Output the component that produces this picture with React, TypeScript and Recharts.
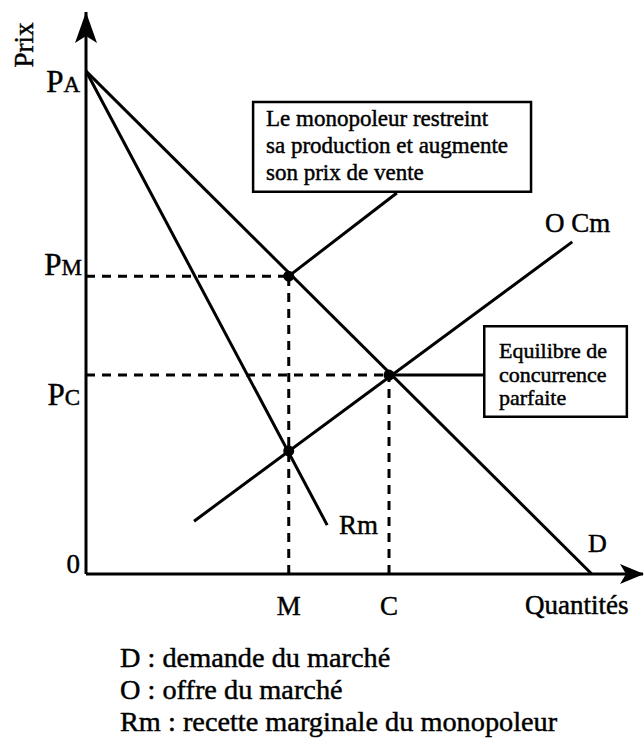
import React from 'react';
import { ComposedChart, Line, Scatter, XAxis, YAxis, ReferenceArea } from 'recharts';

// ---- data (in chart units, both axes 0..100) ----
const P_A = 89.5;
const P_M = 53.0;
const P_C = 35.4;
const Q_M = 36.4;
const Q_C = 54.4;
const RM_AT_M = 21.9;

const demandLine = [{ x: 0, y: P_A }, { x: 90.8, y: 0 }];
const marginalRevenueLine = [{ x: 0, y: P_A }, { x: 43.3, y: 8.7 }];
const supplyLine = [{ x: 19.4, y: 9.4 }, { x: 87.3, y: 59.1 }];

const guidePMh = [{ x: 0, y: P_M }, { x: Q_M, y: P_M }];
const guidePCh = [{ x: 0, y: P_C }, { x: Q_C, y: P_C }];
const guideMv = [{ x: Q_M, y: 0 }, { x: Q_M, y: P_M }];
const guideCv = [{ x: Q_C, y: 0 }, { x: Q_C, y: P_C }];

const leaderMonopoly = [{ x: Q_M, y: P_M }, { x: 55.8, y: 67.8 }];
const leaderCompetition = [{ x: Q_C, y: P_C }, { x: 71.5, y: P_C }];

const keyPoints = [{ x: Q_M, y: P_M }, { x: Q_C, y: P_C }, { x: Q_M, y: RM_AT_M }];

const priceTicks = [0, P_C, P_M, P_A];
const priceTickLabels = [['0', ''], ['P', 'C'], ['P', 'M'], ['P', 'A']];
const quantityTicks = [Q_M, Q_C];
const quantityTickLabels = ['M', 'C'];

const monopolyBox = { x1: 30.0, x2: 79.9, y1: 68.0, y2: 84.0 };
const competitionBox = { x1: 71.5, x2: 97.1, y1: 28.0, y2: 44.1 };

const monopolyText = ['Le monopoleur restreint', 'sa production et augmente', 'son prix de vente'];
const competitionText = ['Equilibre de', 'concurrence', 'parfaite'];
const legendText = ['D : demande du marché', 'O : offre du marché', 'Rm : recette marginale du monopoleur'];

const FONT = '"Liberation Serif", "Times New Roman", serif';
const INK = { fontFamily: FONT, fill: '#000', stroke: '#000', strokeWidth: 0.45 };

const yLabelDy = [-1, 30, -1, 21];
const yLabelDx = [0, 0, 2, 0];

const PriceTick = (props: any) => {
  const { x, y, index } = props;
  const [big, small] = priceTickLabels[index];
  return (
    <text x={x + yLabelDx[index]} y={y + yLabelDy[index]} textAnchor="end" {...INK}>
      <tspan fontSize={index === 0 ? 27 : 31}>{big}</tspan>
      {small ? <tspan fontSize={23}>{small}</tspan> : null}
    </text>
  );
};

const QuantityTick = (props: any) => {
  const { x, y, index } = props;
  return (
    <text x={x} y={y + 41} textAnchor="middle" fontSize={27} {...INK}>
      {quantityTickLabels[index]}
    </text>
  );
};

const Dot = (props: any) => <circle cx={props.cx} cy={props.cy} r={5.5} fill="#000" />;

const solid = { stroke: '#000', strokeWidth: 3, dot: false, activeDot: false, isAnimationActive: false, type: 'linear' as const };
const dashed = { ...solid, strokeDasharray: '9 7' };

export default function App() {
  return (
    <div style={{ position: 'absolute', left: 0, top: 0, width: 644, height: 738, background: '#fff' }}>
      <ComposedChart width={644} height={738} margin={{ top: 12, right: 1, bottom: 104, left: 0 }}>
        <XAxis
          type="number"
          dataKey="x"
          domain={[0, 100]}
          allowDataOverflow
          ticks={quantityTicks}
          tick={<QuantityTick />}
          tickLine={false}
          tickSize={0}
          tickMargin={0}
          height={60}
          axisLine={{ stroke: '#000', strokeWidth: 3 }}
        />
        <YAxis
          type="number"
          dataKey="y"
          domain={[0, 100]}
          allowDataOverflow
          ticks={priceTicks}
          tick={<PriceTick />}
          tickLine={false}
          tickSize={0}
          tickMargin={6}
          width={86}
          axisLine={{ stroke: '#000', strokeWidth: 3 }}
        />
        <Line data={guidePMh} dataKey="y" {...dashed} />
        <Line data={guidePCh} dataKey="y" {...dashed} />
        <Line data={guideMv} dataKey="y" {...dashed} />
        <Line data={guideCv} dataKey="y" {...dashed} />
        <Line data={demandLine} dataKey="y" {...solid} />
        <Line data={marginalRevenueLine} dataKey="y" {...solid} />
        <Line data={supplyLine} dataKey="y" {...solid} />
        <Line data={leaderMonopoly} dataKey="y" {...solid} />
        <Line data={leaderCompetition} dataKey="y" {...solid} />
        <ReferenceArea {...monopolyBox} fill="#fff" fillOpacity={1} stroke="#000" strokeWidth={2.5} ifOverflow="visible" />
        <ReferenceArea {...competitionBox} fill="#fff" fillOpacity={1} stroke="#000" strokeWidth={2.5} ifOverflow="visible" />
        <Scatter data={keyPoints} dataKey="y" shape={<Dot />} isAnimationActive={false} />
      </ComposedChart>
      <svg width={644} height={738} style={{ position: 'absolute', left: 0, top: 0, pointerEvents: 'none' }}>
        {/* axis arrowheads */}
        <path d="M86,12 L97,43 L86,36 L75,43 Z" fill="#000" />
        <path d="M644,574 L620,564 L626,574 L620,584 Z" fill="#000" />
        <text transform="translate(33,45) rotate(-90)" textAnchor="middle" fontSize={27} {...INK}>Prix</text>
        <text x={525} y={614} fontSize={27} {...INK}>Quantités</text>
        <text x={545} y={232} fontSize={27} {...INK}>O Cm</text>
        <text x={339} y={534} fontSize={27} {...INK}>Rm</text>
        <text x={588} y={552} fontSize={26} {...INK}>D</text>
        {monopolyText.map((t, i) => (
          <text key={t} x={266} y={126 + i * 27} fontSize={23} {...INK}>{t}</text>
        ))}
        {competitionText.map((t, i) => (
          <text key={t} x={499} y={358 + i * 23.5} fontSize={22} {...INK}>{t}</text>
        ))}
        {legendText.map((t, i) => (
          <text key={t} x={120} y={667 + i * 32} fontSize={28.3} {...INK}>{t}</text>
        ))}
      </svg>
    </div>
  );
}
